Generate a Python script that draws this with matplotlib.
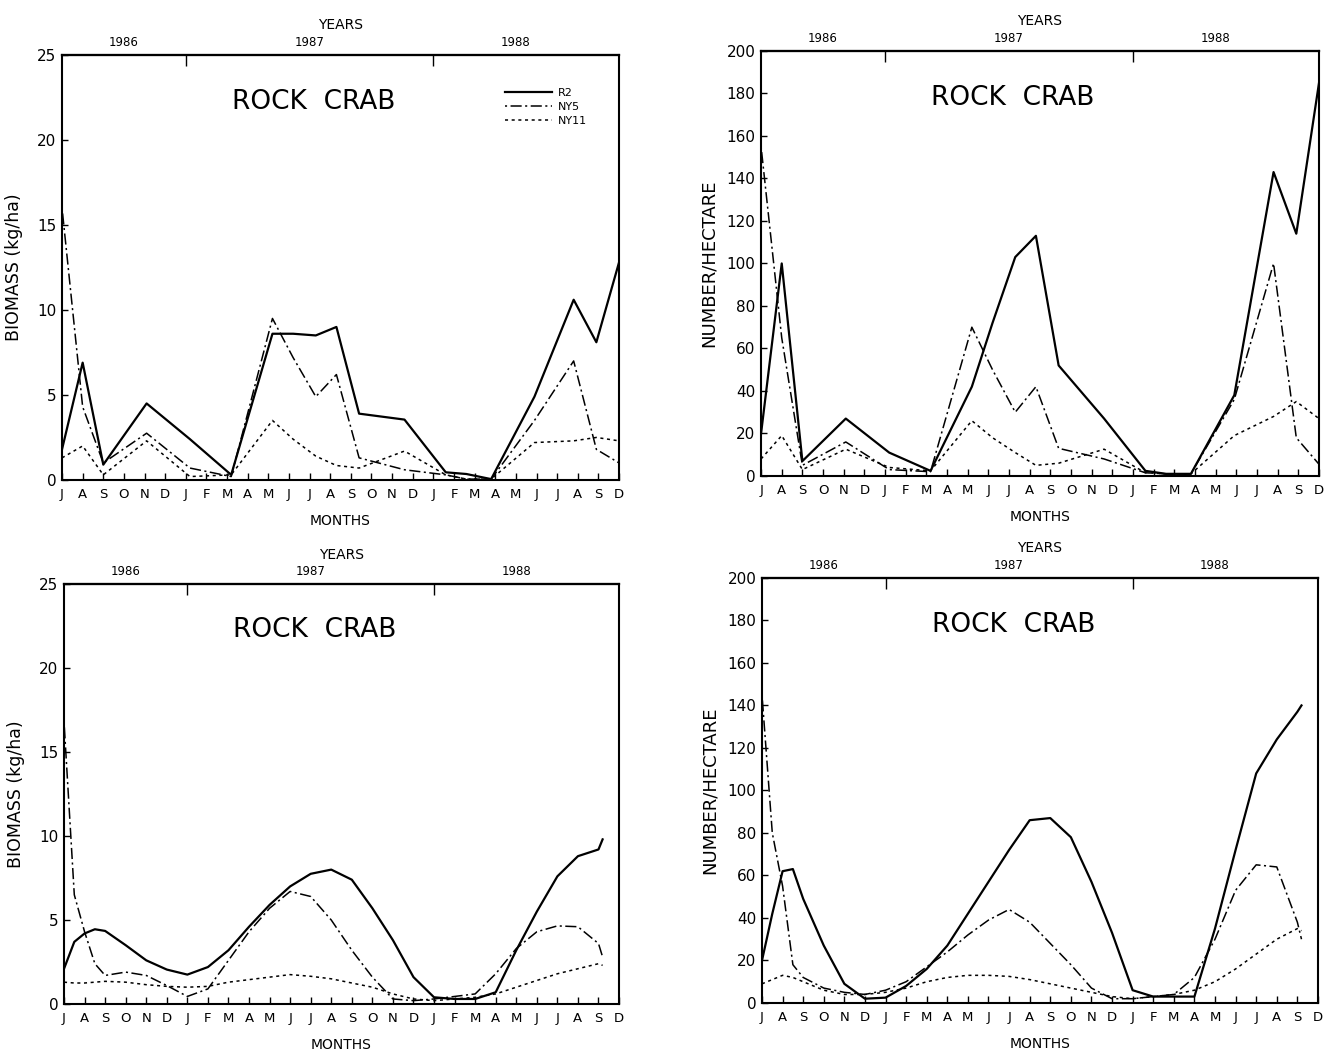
import matplotlib
matplotlib.use("Agg")
import numpy as np
import matplotlib.pyplot as plt

plt.rcParams["font.family"] = ["DejaVu Sans"]
plt.rcParams["lines.scale_dashes"] = False

# month letters along the bottom axis (Jul 1986 .. end of 1988 survey)
MONTH_LABELS = list("JASONDJFMAMJJASONDJFMAMJJASD")
YEAR_TICKS = [6, 18]
YEAR_POS = [3, 12, 22]
YEAR_LABELS = ["1986", "1987", "1988"]
STATIONS = ["R2", "NY5", "NY11"]

# sampling dates (month index, 0 = July 1986) for the raw panels
SAMPLE_X = [0, 1, 2, 4.1, 6.2, 8.2, 10.2, 11.2, 12.3, 13.3, 14.4, 16.6,
            18.6, 19.6, 20.8, 22.9, 24.8, 25.9, 27]

# top left: biomass (kg/ha)
bio_r2 = [1.8, 6.9, 0.9, 4.5, 2.4, 0.3, 8.6, 8.6, 8.5, 9.0, 3.9, 3.55,
          0.45, 0.35, 0.05, 4.9, 10.6, 8.1, 12.8]
bio_ny5 = [16.0, 4.3, 1.0, 2.75, 0.7, 0.2, 9.5, 7.2, 4.9, 6.2, 1.3, 0.6,
           0.3, 0.05, 0.05, 3.5, 7.0, 1.8, 1.0]
bio_ny11 = [1.3, 2.0, 0.3, 2.3, 0.2, 0.3, 3.5, 2.4, 1.4, 0.85, 0.7, 1.7,
            0.3, 0.05, 0.05, 2.2, 2.3, 2.5, 2.3]

# top right: number / hectare
num_r2 = [20, 100, 7, 27, 11, 2.4, 42, 72, 103, 113, 52, 27, 2.4, 1, 1,
          38, 143, 114, 185]
num_ny5 = [155, 65, 5, 16, 3, 2, 70, 50, 30, 42, 13, 8, 1.5, 1, 1, 36,
           100, 18, 5.5]
num_ny11 = [8, 19, 3, 12.6, 4, 2.4, 26, 18, 11, 5, 6, 12.6, 1.5, 1, 1,
            19, 28, 35, 27]

# smoothed panels, read at each month
SMOOTH_X = [0, 0.5, 1, 1.5, 2, 3, 4, 5, 6, 7, 8, 9, 10, 11, 12, 13, 14,
            15, 16, 17, 18, 19, 20, 21, 22, 23, 24, 25, 26, 26.2]

sbio_r2 = [2.1, 3.7, 4.2, 4.45, 4.35, 3.5, 2.6, 2.05, 1.75, 2.2, 3.2, 4.6,
           5.9, 7.0, 7.75, 8.0, 7.4, 5.7, 3.8, 1.6, 0.4, 0.3, 0.3, 0.7,
           3.2, 5.5, 7.6, 8.8, 9.2, 9.8]
sbio_ny5 = [16.8, 6.5, 4.3, 2.4, 1.7, 1.9, 1.7, 1.1, 0.45, 0.9, 2.6, 4.3,
            5.7, 6.7, 6.4, 5.0, 3.2, 1.6, 0.3, 0.2, 0.3, 0.45, 0.6, 1.8,
            3.3, 4.3, 4.65, 4.6, 3.6, 2.8]
sbio_ny11 = [1.3, 1.25, 1.25, 1.3, 1.35, 1.3, 1.15, 1.05, 1.0, 1.05, 1.3,
             1.45, 1.6, 1.75, 1.65, 1.5, 1.25, 1.0, 0.6, 0.3, 0.2, 0.3, 0.4,
             0.6, 1.0, 1.4, 1.8, 2.1, 2.4, 2.3]

snum_r2 = [20, 42, 62, 63, 49, 27, 9, 2, 2.5, 8, 16, 27, 42, 57, 72, 86,
           87, 78, 57, 33, 6, 3, 3, 3, 35, 72, 108, 124, 137, 140]
snum_ny5 = [145, 80, 55, 18, 12, 7, 5, 4, 6, 10, 17, 24, 32, 39, 44, 38,
            28, 18, 7, 2, 2, 3, 4, 12, 30, 53, 65, 64, 38, 30]
snum_ny11 = [9, 11, 13, 12, 10, 6, 4, 4, 5, 7, 10, 12, 13, 13, 12.5, 11, 9,
             7, 5, 3, 2, 3, 4, 6, 10, 16, 23, 30, 35, 34]

STYLES = {
    "R2": dict(color="black", lw=1.6, ls="-"),
    "NY5": dict(color="black", lw=1.1, ls=(0, (1.5, 2.5, 8, 2.5))),
    "NY11": dict(color="black", lw=1.1, ls=(0, (2.2, 2.6))),
}


def setup_axes(ax, ymax, ystep, ylabel, ylabelpad, ylabelsize):
    ax.set_xlim(0, 27)
    ax.set_ylim(0, ymax)
    ax.set_xticks(range(len(MONTH_LABELS)))
    ax.set_xticklabels(MONTH_LABELS, fontsize=9.5)
    ax.set_yticks(np.arange(0, ymax + 1, ystep))
    ax.tick_params(axis="x", direction="in", length=5, width=1, pad=6,
                   top=False)
    ax.tick_params(axis="y", direction="in", length=4, width=1, pad=4,
                   right=False, labelsize=11)
    for sp in ax.spines.values():
        sp.set_linewidth(1.5)
    ax.set_xlabel("MONTHS", fontsize=10, labelpad=9)
    ax.set_ylabel(ylabel, fontsize=ylabelsize, labelpad=ylabelpad)

    # year axis on top
    top = ax.secondary_xaxis("top")
    top.set_xticks(YEAR_TICKS, labels=["", ""])
    top.set_xticks(YEAR_POS, labels=YEAR_LABELS, minor=True)
    top.tick_params(which="major", direction="in", length=8, width=1)
    top.tick_params(which="minor", length=0, pad=4, labelsize=8.5)
    top.spines["top"].set_linewidth(1.6)
    top.set_xlabel("YEARS", fontsize=10, labelpad=5)

    ax.text(12.2, ymax * 0.89, "ROCK  CRAB", ha="center", va="center",
            fontsize=19)


def draw(ax, x, series):
    for name, y in zip(STATIONS, series):
        ax.plot(x, y, label=name, **STYLES[name])


fig = plt.figure(figsize=(13.31, 10.5), dpi=100)

# axes rectangles taken from the scanned page layout
ax_tl = fig.add_axes([0.0466, 0.5429, 0.4185, 0.4048])
ax_tr = fig.add_axes([0.5718, 0.5467, 0.4192, 0.4048])
ax_bl = fig.add_axes([0.0481, 0.0438, 0.4170, 0.4000])
ax_br = fig.add_axes([0.5725, 0.0448, 0.4177, 0.4048])

draw(ax_tl, SAMPLE_X, [bio_r2, bio_ny5, bio_ny11])
draw(ax_tr, SAMPLE_X, [num_r2, num_ny5, num_ny11])
draw(ax_bl, SMOOTH_X, [sbio_r2, sbio_ny5, sbio_ny11])
draw(ax_br, SMOOTH_X, [snum_r2, snum_ny5, snum_ny11])

setup_axes(ax_tl, 25, 5, "BIOMASS (kg/ha)", 10, 12.5)
setup_axes(ax_tr, 200, 20, "NUMBER/HECTARE", 6, 13)
setup_axes(ax_bl, 25, 5, "BIOMASS (kg/ha)", 10, 12.5)
setup_axes(ax_br, 200, 20, "NUMBER/HECTARE", 6, 13)

ax_tl.legend(loc="upper left", bbox_to_anchor=(0.785, 0.935),
             frameon=False, fontsize=8, handlelength=4.2, handletextpad=0.6,
             labelspacing=0.35, borderpad=0)

fig.savefig("out.png", dpi=100)
